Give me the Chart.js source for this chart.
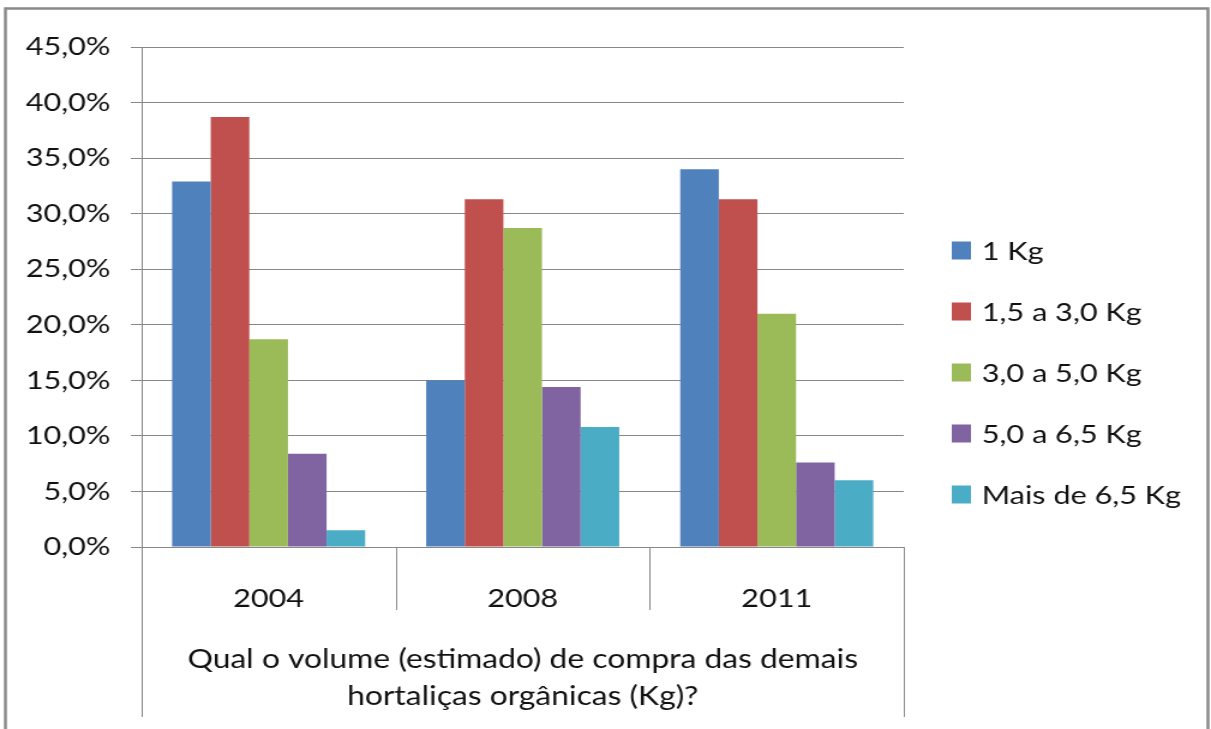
<!DOCTYPE html>
<html>
<head>
<meta charset="utf-8">
<script src="https://cdn.jsdelivr.net/npm/chart.js@4.4.0/dist/chart.umd.min.js"></script>
<style>
  html, body { margin: 0; padding: 0; background: #fff; overflow: hidden; }
</style>
</head>
<body>
<!-- drawn narrower and stretched wide, like the original picture -->
<canvas id="chart" width="1009" height="729" style="display:block;width:1211px;height:729px"></canvas>
<script>
// Data
const years = ['2004', '2008', '2011'];
const seriesNames = ['1 Kg', '1,5 a 3,0 Kg', '3,0 a 5,0 Kg', '5,0 a 6,5 Kg', 'Mais de 6,5 Kg'];
const kg1 = [32.9, 15.0, 34.0];
const kg15to30 = [38.7, 31.3, 31.3];
const kg30to50 = [18.7, 28.7, 21.0];
const kg50to65 = [8.4, 14.4, 7.6];
const over65 = [1.5, 10.8, 6.0];
const yTicks = [0, 5, 10, 15, 20, 25, 30, 35, 40, 45];
const axisTitle = ['Qual o volume (estimado) de compra das demais', 'hortaliças orgânicas (Kg)?'];

const colors = ['#4F81BD', '#C0504D', '#9BBB59', '#8064A2', '#4BACC6'];
const gridColor = '#888888';
const fontFamily = 'Lato, "Noto Sans", sans-serif';

const seriesValues = [kg1, kg15to30, kg30to50, kg50to65, over65];

// boxed category axis, outer frame and legend
const decorPlugin = {
    id: 'decor',
    afterDraw(chart) {
        const ctx = chart.ctx;
        const area = chart.chartArea;
        const xs = chart.scales.x;
        ctx.save();
        ctx.strokeStyle = gridColor;
        ctx.lineWidth = 1;
        ctx.beginPath();
        for (let i = 1; i < years.length; i++) {
            const xb = Math.round((xs.getPixelForValue(i - 1) + xs.getPixelForValue(i)) / 2) + 0.5;
            ctx.moveTo(xb, area.bottom);
            ctx.lineTo(xb, area.bottom + 63);
        }
        ctx.moveTo(Math.round(area.left) + 0.5, area.bottom);
        ctx.lineTo(Math.round(area.left) + 0.5, 717);
        ctx.moveTo(Math.round(area.right) + 0.5, area.bottom);
        ctx.lineTo(Math.round(area.right) + 0.5, 717);
        ctx.stroke();

        // outer frame
        ctx.strokeStyle = '#8a8a8a';
        ctx.lineWidth = 2.5;
        ctx.strokeRect(4.5, 8.5, chart.width - 7, chart.height + 20);

        // legend
        const mid = chart.height / 2 + 8;
        ctx.font = '25.5px ' + fontFamily;
        ctx.textBaseline = 'middle';
        ctx.textAlign = 'left';
        chart.data.datasets.forEach((ds, i) => {
            const cy = mid + (i - 2) * 61;
            ctx.fillStyle = ds.backgroundColor;
            ctx.fillRect(area.right + 40, cy - 9, 16, 18);
            ctx.fillStyle = '#111';
            ctx.fillText(ds.label, area.right + 65, cy + 1);
        });
        ctx.restore();
    }
};

const ctx = document.getElementById('chart').getContext('2d');
new Chart(ctx, {
    type: 'bar',
    data: {
        labels: years,
        datasets: seriesNames.map((name, i) => ({
            label: name,
            data: seriesValues[i],
            backgroundColor: colors[i],
            borderWidth: 0,
            categoryPercentage: 0.76,
            barPercentage: 1.0
        }))
    },
    options: {
        responsive: false,
        devicePixelRatio: 1,
        animation: false,
        layout: { padding: { top: 47, right: 256, left: 0, bottom: 0 } },
        plugins: {
            legend: { display: false },
            tooltip: { enabled: false }
        },
        scales: {
            x: {
                grid: { display: false },
                border: { display: true, color: gridColor, width: 1 },
                ticks: {
                    color: '#111',
                    font: { family: fontFamily, size: 25.5 },
                    padding: 28
                },
                title: {
                    display: true,
                    text: axisTitle,
                    color: '#111',
                    font: { family: fontFamily, size: 26.5, lineHeight: 1.4 },
                    padding: { top: 0, bottom: 14 }
                },
                afterFit(scale) { scale.height = 182; }
            },
            y: {
                min: 0,
                max: 45,
                afterBuildTicks(scale) { scale.ticks = yTicks.map(v => ({ value: v })); },
                grid: { color: gridColor, lineWidth: 1, tickLength: 9 },
                border: { display: true, color: gridColor, width: 1 },
                ticks: {
                    color: '#111',
                    font: { family: fontFamily, size: 25.5 },
                    padding: 17,
                    callback: v => v.toFixed(1).replace('.', ',') + '%'
                },
                afterFit(scale) { scale.width = 118; }
            }
        }
    },
    plugins: [decorPlugin]
});
</script>
</body>
</html>
